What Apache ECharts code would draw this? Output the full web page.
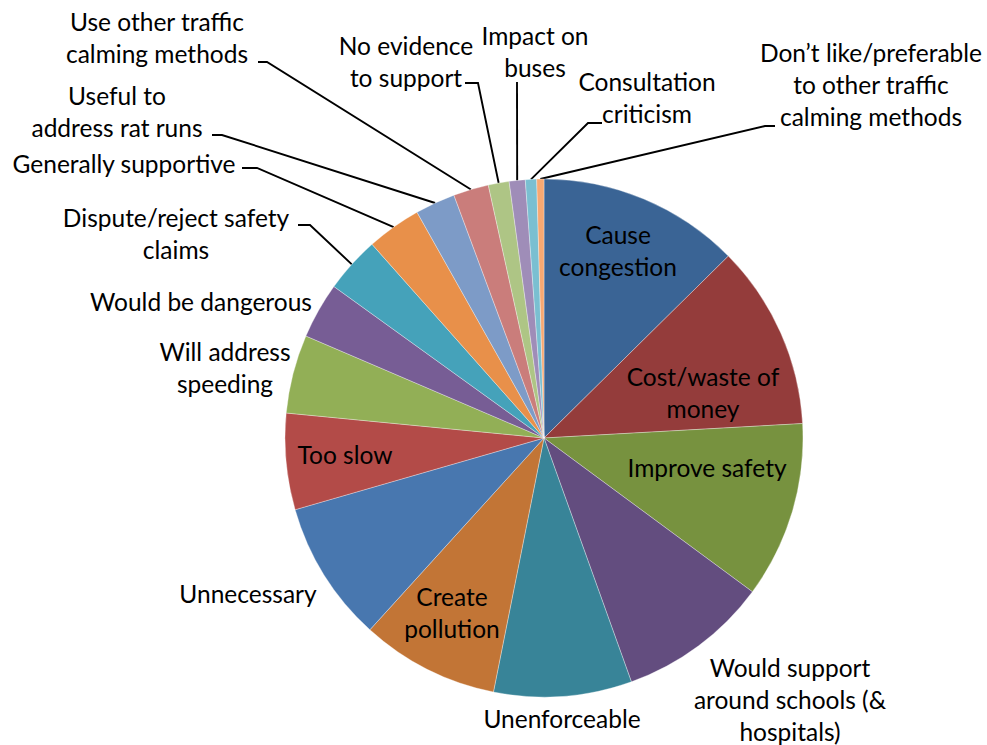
<!DOCTYPE html>
<html>
<head>
<meta charset="utf-8">
<script src="https://cdn.jsdelivr.net/npm/echarts@6/dist/echarts.min.js"></script>
<style>
  html, body { margin: 0; padding: 0; background: #ffffff; }
  #chart { width: 987px; height: 745px; }
</style>
</head>
<body>
<div id="chart"></div>
<script>
// Comment themes, clockwise from 12 o'clock (line breaks as shown on the chart)
const categories = [
  'Cause\ncongestion',
  'Cost/waste of\nmoney',
  'Improve safety',
  'Would support\naround schools (&\nhospitals)',
  'Unenforceable',
  'Create\npollution',
  'Unnecessary',
  'Too slow',
  'Will address\nspeeding',
  'Would be dangerous',
  'Dispute/reject safety\nclaims',
  'Generally supportive',
  'Useful to\naddress rat runs',
  'Use other traffic\ncalming methods',
  'No evidence\nto support',
  'Impact on\nbuses',
  'Consultation\ncriticism',
  'Don\u2019t like/preferable\nto other traffic\ncalming methods'
];

// Share of comments (%)
const shares = [12.6, 11.5, 11.0, 9.4, 8.6, 8.6, 8.8, 6.0, 4.9, 3.5, 3.5, 3.4, 2.5, 2.2, 1.3, 1.0, 0.7, 0.45];

const sliceColors = [
  '#3A6495', '#943C3B', '#77923F', '#634D7F', '#388498', '#C27536',
  '#4877AF', '#B34B48', '#92AF56', '#775D95', '#45A2BA', '#E8904A',
  '#7D9BC7', '#CA7D7B', '#AEC585', '#9F8DB8', '#7ABFD1', '#F7A872'
];

// Centre of each label block, in px
const labelAnchors = [
  [618, 250], [703, 392], [707, 467], [790, 699], [562, 718], [452, 612],
  [248, 593], [345, 454], [225, 367], [201, 301], [176, 233], [124, 163],
  [117, 111], [157, 37], [406, 61], [535, 51], [647, 97], [871, 84]
];

// Leader lines: elbow point, then the end next to the label text
const leaderLegs = {
  10: [[310, 225], [298, 225]],
  11: [[257, 168], [242, 168]],
  12: [[222, 135], [212, 135]],
  13: [[267, 62], [258, 62]],
  14: [[478, 83], [465, 83]],
  15: [[517, 82], [517, 82]],
  16: [[588, 123], [602, 123]],
  17: [[765, 126], [775, 126]]
};

const chart = echarts.init(document.getElementById('chart'), null, { renderer: 'svg' });

const data = categories.map(function (name, i) {
  const hasLeader = !!leaderLegs[i];
  return {
    name: name,
    value: shares[i],
    itemStyle: { color: sliceColors[i] },
    label: { position: hasLeader ? 'outside' : 'inside' },
    labelLine: { show: hasLeader }
  };
});

chart.setOption({
  animation: false,
  backgroundColor: '#ffffff',
  series: [{
    type: 'pie',
    center: [544, 438],
    radius: 259,
    startAngle: 90,
    clockwise: true,
    avoidLabelOverlap: false,
    emphasis: { disabled: true },
    itemStyle: { borderColor: 'rgba(255,255,255,0.55)', borderWidth: 0.6 },
    label: {
      show: true,
      color: '#000000',
      fontFamily: 'Lato',
      fontSize: 24.5,
      lineHeight: 32,
      overflow: 'none',
      formatter: '{b}'
    },
    labelLine: {
      lineStyle: { color: '#000000', width: 1.9 }
    },
    labelLayout: function (p) {
      const i = p.dataIndex;
      const a = labelAnchors[i];
      const out = { x: a[0], y: a[1], align: 'center', verticalAlign: 'middle' };
      const leg = leaderLegs[i];
      if (leg && p.labelLinePoints) {
        out.labelLinePoints = [p.labelLinePoints[0], leg[0], leg[1]];
      }
      return out;
    },
    data: data
  }]
});
</script>
</body>
</html>
